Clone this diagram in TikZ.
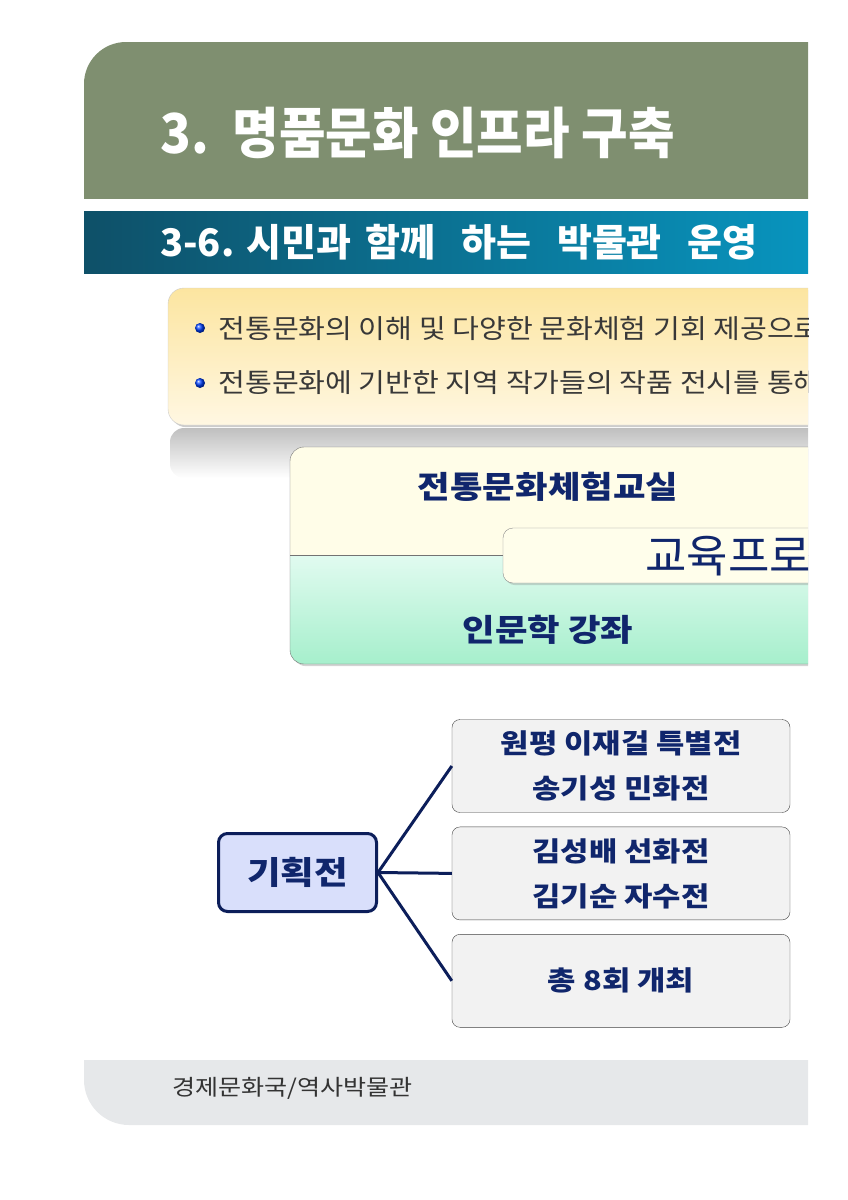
\documentclass[tikz,border=0pt]{standalone}
\usepackage{fontspec}
\newfontfamily\kr{Noto Sans CJK KR}
\newfontfamily\krw[FakeStretch=1.14]{Noto Sans CJK KR}
\newfontfamily\krz[FakeStretch=1.1]{Noto Sans CJK KR}
\usetikzlibrary{positioning,shadows,calc}
\definecolor{kopf}{RGB}{127,143,112}
\definecolor{tealdunkel}{RGB}{14,80,104}
\definecolor{tealhell}{RGB}{8,148,190}
\definecolor{navy}{RGB}{16,38,108}
\definecolor{linie}{RGB}{12,30,90}
\definecolor{gelboben}{RGB}{252,229,160}
\definecolor{gelbunten}{RGB}{255,247,226}
\definecolor{blass}{RGB}{255,253,232}
\definecolor{gruen}{RGB}{166,239,204}
\definecolor{gruenhell}{RGB}{225,251,240}
\definecolor{lila}{RGB}{217,223,251}
\definecolor{fuss}{RGB}{230,232,234}
\tikzset{>=latex}

\begin{document}
\begin{tikzpicture}[x=1pt,y=-1pt]
    \tikzset{
      punkt/.style={circle, inner sep=0pt, minimum size=10pt, ball color=blue!75!cyan},
      zeile/.style={anchor=west, inner sep=0pt, text=black!78, font=\krz\fontsize{26.5}{26.5}\selectfont},
      kurs/.style={inner sep=0pt, text=navy, font=\krw\bfseries\fontsize{31}{31}\selectfont},
      schau/.style={draw=black!75, fill=black!5, rounded corners=8pt, minimum width=338pt, minimum height=93pt,
        align=center, inner sep=0pt, text=navy, font=\krw\bfseries\fontsize{27}{45}\selectfont},
      ast/.style={draw=linie, line width=3pt},
    }
    \useasboundingbox (0,0) rectangle (847,1200);

    % Kopf (gruen) und Unterzeile (teal).
    \begin{scope}
      \clip (0,0) rectangle (808,198);
      \fill [kopf, rounded corners=42pt] (84,42) rectangle (900,300);
    \end{scope}
    \shade [left color=tealdunkel, right color=tealhell] (84,211) rectangle (808,273);
    \node [anchor=west, inner sep=0pt, text=white, font=\kr\bfseries\fontsize{55}{55}\selectfont, xscale=0.92] (titel) at (160,133) {3.\, 명품문화 인프라 구축};
    \node [anchor=west, inner sep=0pt, text=white, font=\kr\bfseries\fontsize{38}{38}\selectfont] (untertitel) at (160,242)
      {3-6.\hspace{12pt}시민과\hspace{14pt}함께\hspace{26pt}하는\hspace{26pt}박물관\hspace{26pt}운영};

    \begin{scope}
      \clip (0,0) rectangle (808,1200);

      % Ziele (gelber Kasten).
      \shade [top color=black!25, bottom color=white, rounded corners=14pt] (170,428) rectangle (840,478);
      \path [rounded corners=16pt, top color=gelboben, bottom color=gelbunten, draw=black!20, drop shadow={opacity=0.4}] (168,288) rectangle (840,425);
      \node [punkt] (p1) at (200,328) {};
      \node [punkt] (p2) at (200,383) {};
      \node [zeile, right=13pt of p1] (z1) {전통문화의 이해 및 다양한 문화체험 기회 제공으로};
      \node [zeile, right=13pt of p2] (z2) {전통문화에 기반한 지역 작가들의 작품 전시를 통해};

      % Programme.
      \path [rounded corners=14pt, fill=white, drop shadow={opacity=0.35}] (290,447) rectangle (840,664);
      \begin{scope}
        \clip [rounded corners=14pt] (290,447) rectangle (840,664);
        \fill [blass] (290,447) rectangle (840,555);
        \shade [top color=gruenhell, bottom color=gruen] (290,555) rectangle (840,664);
      \end{scope}
      \draw [black!55, rounded corners=14pt] (290,447) rectangle (840,664);
      \draw [black!55] (290,555) -- (840,555);
      \node [kurs] (kurs1) at (548,487) {전통문화체험교실};
      \node [kurs] (kurs2) at (548,630) {인문학 강좌};
      \path [rounded corners=10pt, fill=white!92!yellow, draw=black!45, drop shadow={opacity=0.3}] (503,528) rectangle (840,583);
      \node [anchor=west, inner sep=0pt, text=navy, font=\kr\fontsize{45}{45}\selectfont] (programm) at (645,556) {교육프로그};
    \end{scope}

    % Ausstellungen.
    \node [draw=linie, line width=3pt, fill=lila, rounded corners=9pt, minimum width=158pt, minimum height=78pt,
      text=navy, font=\krw\fontsize{32}{32}\selectfont] (plan) at (297.5,872.5) {\textbf{기획전}};
    \node [schau] (schau1) at (621,766) {원평 이재걸 특별전\\송기성 민화전};
    \node [schau, below=14pt of schau1] (schau2) {김성배 선화전\\김기순 자수전};
    \node [schau, below=14pt of schau2] (schau3) {총 8회 개최};
    \draw [ast] (plan.east) -- (schau1.west);
    \draw [ast] (plan.east) -- (schau2.west);
    \draw [ast] (plan.east) -- (schau3.west);

    % Fusszeile.
    \begin{scope}
      \clip (0,1060) rectangle (808,1200);
      \fill [fuss, rounded corners=45pt] (84,1000) rectangle (900,1125);
    \end{scope}
    \node [anchor=west, inner sep=0pt, text=black!80, font=\krw\fontsize{22}{22}\selectfont] (quelle) at (172,1088) {경제문화국/역사박물관};

  \end{tikzpicture}
\end{document}
